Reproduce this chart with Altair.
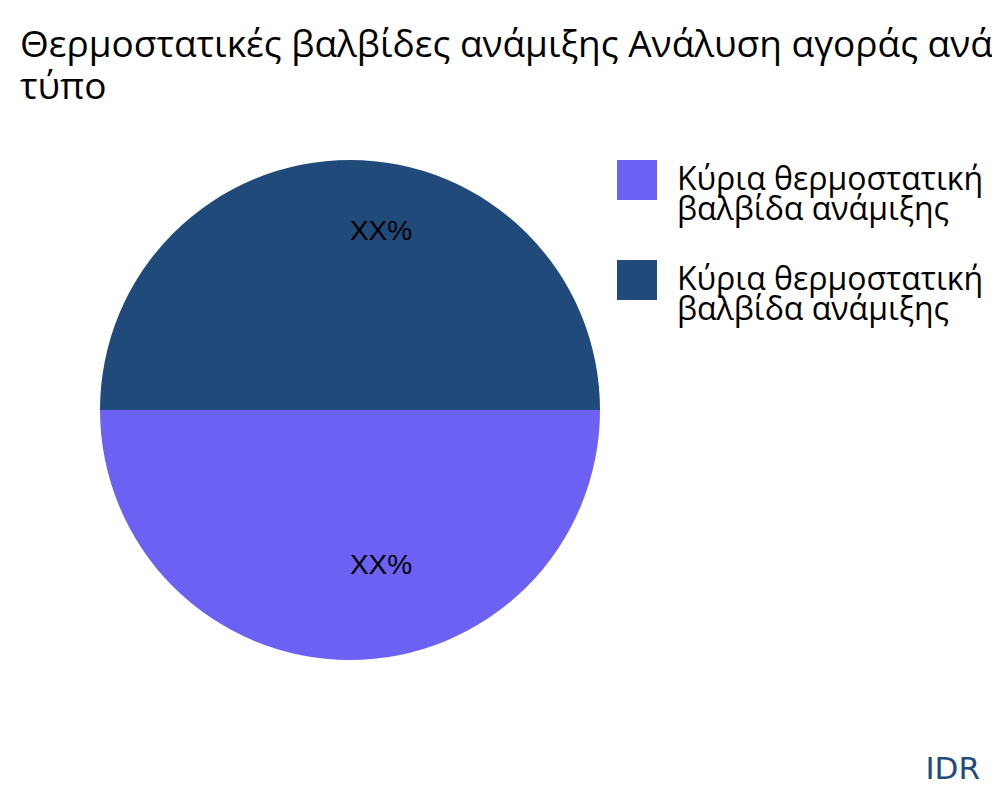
import math
import altair as alt
import pandas as pd

# --- data ---
categories = ["Κύρια θερμοστατική βαλβίδα ανάμιξης", "Κύρια θερμοστατική βαλβίδα ανάμιξης "]
shares = [50, 50]
labels = ["XX%", "XX%"]
colors = ["#6c61f2", "#1f4a7a"]
title_lines = ["Θερμοστατικές βαλβίδες ανάμιξης Ανάλυση αγοράς ανά", "τύπο"]
brand = ["IDR"]

df = pd.DataFrame({"type": categories, "share": shares, "label": labels})

theta = alt.Theta("share:Q", stack=True,
                  scale=alt.Scale(range=[math.pi / 2, 5 * math.pi / 2]))
color = alt.Color(
    "type:N",
    scale=alt.Scale(domain=categories, range=colors),
    legend=alt.Legend(
        title=None,
        orient="none",
        legendX=597,
        legendY=60,
        padding=0,
        symbolType="square",
        symbolSize=1600,
        symbolStrokeWidth=0,
        symbolOpacity=1,
        labelFont="Open Sans",
        labelFontSize=32,
        labelColor="#000000",
        labelOffset=20,
        labelLimit=500,
        rowPadding=34,
        labelExpr="[join(slice(split(trim(datum.label), ' '), 0, 2), ' '), join(slice(split(trim(datum.label), ' '), 2), ' ')]",
    ),
)

pie = alt.Chart(df).mark_arc(outerRadius=250, stroke=None).encode(
    theta=theta, color=color, order=alt.Order("type:N")
)

text = alt.Chart(df).mark_text(
    radius=167, dx=31, dy=-11, font="Liberation Sans", fontSize=28,
    color="#000000", baseline="middle", align="center"
).encode(theta=theta, text="label:N", order=alt.Order("type:N"))

brand_df = pd.DataFrame({"b": brand})
logo = alt.Chart(brand_df).mark_text(
    font="DejaVu Sans", fontSize=31, color="#1f4a7a", align="right", baseline="alphabetic"
).encode(text="b:N", x=alt.value(960), y=alt.value(679))

chart = alt.layer(pie, text, logo).properties(
    width=660,
    height=620,
    padding={"left": 12, "top": 92, "right": 312, "bottom": 72},
    autosize=alt.AutoSizeParams(type="none"),
    title=alt.TitleParams(
        text=title_lines,
        anchor="start",
        frame="group",
        font="Open Sans",
        fontSize=37,
        fontWeight="normal",
        lineHeight=42,
        color="#000000",
        offset=8,
        dy=15,
    ),
).configure(style={"guide-label": {"lineHeight": 30}}).configure_view(stroke=None)

chart.save("out.html", embed_options={"renderer": "svg", "actions": False})
